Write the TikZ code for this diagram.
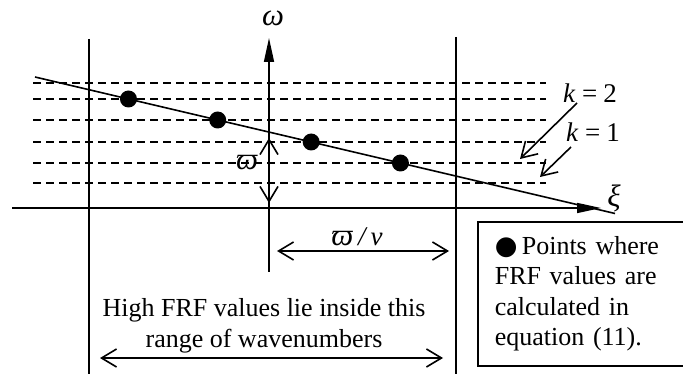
\documentclass[tikz,border=0pt]{standalone}
\usepackage{fontspec}
\setmainfont{Liberation Serif}
\newfontfamily\bulletfont{DejaVu Sans}
\usetikzlibrary{arrows.meta, positioning, calc}

\begin{document}
\begin{tikzpicture}[x=1pt, y=-1pt, line width=1.6pt,
    font=\fontsize{26}{30.5}\selectfont,
    axisarrow/.style={-{Triangle[length=24pt, width=10pt]}},
    barb/.style={-{Straight Barb[length=15pt, width=18pt]}},
    twobarb/.style={{Straight Barb[length=15pt, width=18pt]}-{Straight Barb[length=15pt, width=18pt]}},
    level/.style={dash pattern=on 8pt off 5pt, line width=1.6pt},
    dot/.style={circle, fill, inner sep=0pt, minimum size=17pt},
    lbl/.style={inner sep=0pt, font=\fontsize{27}{30}\selectfont\itshape},
    greek/.style={lbl, font=\fontsize{31}{30}\selectfont\itshape}]

\clip (0, 0) rectangle (683, 374);

% ── Axes and band limits ─────────────────────────────────────────
\coordinate (wlow)  at (269, 272);
\coordinate (whigh) at (269, 38);
\coordinate (xlow)  at (12, 208);
\coordinate (xhigh) at (601, 208);
\draw[axisarrow] (wlow) -- (whigh);
\draw[axisarrow] (xlow) -- (xhigh);
\node[greek] (omega) at (273, 18) {ω};
\node[greek] (xi) at (614, 198) {ξ};

\coordinate (leftA)  at (89, 39);
\coordinate (leftB)  at (89, 374);
\coordinate (rightA) at (456, 37);
\coordinate (rightB) at (456, 374);
\draw (leftA) -- (leftB);
\draw (rightA) -- (rightB);

% ── Dashed levels ────────────────────────────────────────────────
\foreach \y in {83, 99, 120, 142, 163, 183} {
    \draw[level] (33, \y) -- (546, \y);
}

% ── Sloped line and points ───────────────────────────────────────
\coordinate (lineA) at (35, 77);
\coordinate (lineB) at (615, 213.5);
\draw (lineA) -- (lineB);
\foreach \y [count=\i] in {99, 120, 142, 163} {
    \node[dot] (p\i) at ($(lineA)!{(\y-77)/136.5}!(lineB)$) {};
}

% ── Spacing arrows ───────────────────────────────────────────────
\node[greek] (varpi) at (247, 163) {ϖ};
\draw[twobarb] (269, 138) -- (269, 203);

\node[lbl] (ratio) at (357, 237) {{\fontsize{31}{30}\selectfont ϖ}\hspace{5pt}/\hspace{5pt}v};
\coordinate (ratioA) at (277, 251);
\coordinate (ratioB) at (449, 251);
\draw[twobarb] (ratioA) -- (ratioB);

% ── k labels ─────────────────────────────────────────────────────
\node[lbl] (k2) at (590, 93) {k\hspace{7pt}{\upshape=}\hspace{6pt}{\upshape 2}};
\node[lbl] (k1) at (593, 132) {k\hspace{7pt}{\upshape=}\hspace{6pt}{\upshape 1}};
\coordinate (k2tip) at (520, 159);
\coordinate (k1tip) at (540, 177);
\draw[barb] (577, 103) -- (k2tip);
\draw[barb] (571, 147) -- (k1tip);

% ── Range of wavenumbers ─────────────────────────────────────────
\node[inner sep=0pt, align=center] (range) at (264, 326)
    {High FRF values lie inside this\\range of wavenumbers};
\coordinate (rangeA) at (100, 358);
\coordinate (rangeB) at (443, 358);
\draw[twobarb] (rangeA) -- (rangeB);

% ── Legend ───────────────────────────────────────────────────────
\node[draw, anchor=north west, minimum height=144pt, text width=200pt,
      inner xsep=17pt, inner ysep=0pt, align=left] (legend) at (477, 221)
    {{\bulletfont ●}\,Points where\\FRF values are\\calculated in\\equation (11).};

\end{tikzpicture}
\end{document}
